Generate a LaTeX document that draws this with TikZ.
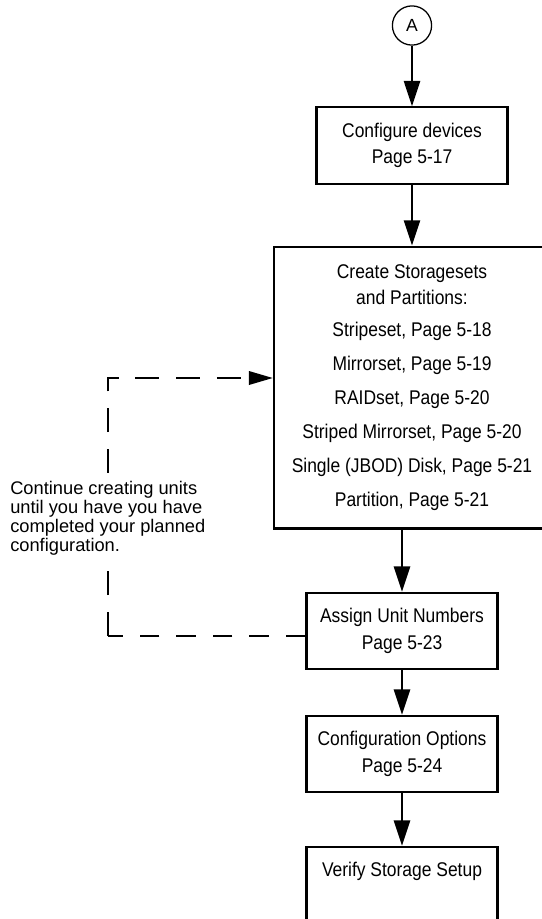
\documentclass[tikz,border=0pt]{standalone}
\usepackage{fontspec}
\setmainfont{Liberation Sans}
\newfontfamily\narrowsans[FakeStretch=0.88]{Liberation Sans}
\usepackage{tikz}
\usetikzlibrary{shapes,arrows}
\usetikzlibrary{arrows.meta}
\tikzset{
  stepbox/.style={rectangle, draw, line width=1.6pt, minimum width=4.77cm, minimum height=1.91cm, inner sep=0pt, align=center, font=\narrowsans\fontsize{14.1}{19}\selectfont},
  flowarrow/.style={line width=1.5pt, -{Triangle[length=18pt,width=11.5pt]}},
  loopthick/.style={line width=1.6pt, dash pattern=on 17pt off 12pt},
  loopthin/.style={line width=0.9pt, dash pattern=on 14pt off 12pt},
  notetext/.style={anchor=north west, align=left, fill=white, inner sep=0pt, font=\fontsize{13}{13.5}\selectfont}
}
\newcommand{\fcconnector}[2] {\node at (#1) (#2) [circle, draw, line width=0.9pt, minimum size=0.98cm, inner sep=0pt, font=\fontsize{12.5}{14}\selectfont] {#2};}
\newcommand{\fcstep}[4][] {\node at (#2) (#3) [stepbox, #1] {#4};}
\newcommand{\fcflow}[2] {\draw [flowarrow] (#1) -- (#2);}
\begin{document}
\begin{tikzpicture}
\clip (0,0) rectangle (13.55,-22.975);
\fcconnector {10.3,-0.6375} {A};
\fcstep {10.3,-3.6375} {devices} {Configure devices\\Page 5-17};
\fcstep [minimum width=6.9cm, minimum height=7.045cm] {10.3,-9.69} {storagesets}
  {Create Storagesets\\and Partitions:\\[3.8pt]Stripeset, Page 5-18\\[5.2pt]Mirrorset, Page 5-19\\[5.2pt]RAIDset, Page 5-20\\[5.2pt]Striped Mirrorset, Page 5-20\\[5.2pt]Single (JBOD) Disk, Page 5-21\\[5.2pt]Partition, Page 5-21};
\fcstep {10.05,-15.775} {assign} {Assign Unit Numbers\\Page 5-23};
\fcstep {10.05,-18.85} {options} {Configuration Options\\Page 5-24};
\fcstep {10.05,-22.125} {verify} {Verify Storage Setup\\\phantom{Page 5-25}};

\fcflow{A}{devices};
\fcflow{devices}{storagesets};
\draw [flowarrow] (assign |- storagesets.south) -- (assign);
\fcflow{assign}{options};
\fcflow{options}{verify};

% loop back for more units
\coordinate (loopbottom) at (2.7,-15.9);
\coordinate (looptop) at (2.7,-9.45);
\draw [loopthin] (assign.west |- loopbottom) -- (loopbottom);
\draw [loopthick, -{Triangle[length=17pt,width=9.5pt]}] (loopbottom) -- (looptop) -- (looptop -| storagesets.west);

\node at (0.25,-12.03) (note) [notetext] {Continue creating units\\until you have you have\\completed your planned\\configuration.};
\end{tikzpicture}
\end{document}
